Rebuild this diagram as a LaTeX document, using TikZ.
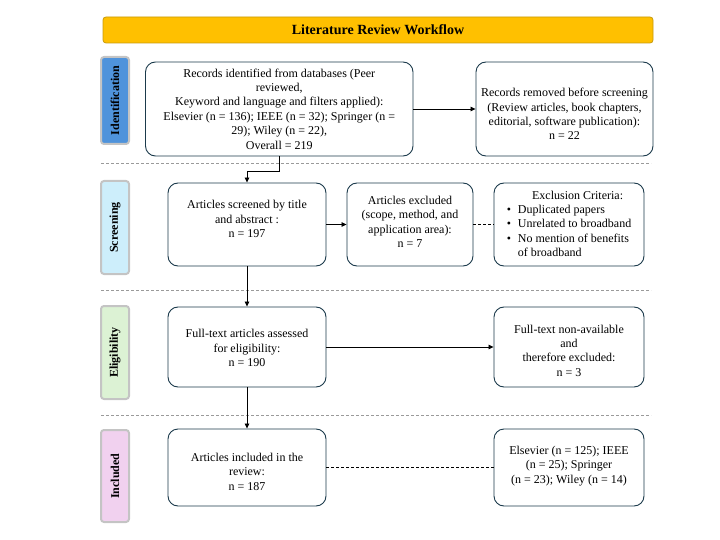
\documentclass[tikz,border=0pt]{standalone}
\usepackage{fontspec}
\setmainfont{Liberation Serif}
\usetikzlibrary{arrows.meta}
\definecolor{boxline}{HTML}{1B3A4B}
\definecolor{titlefill}{HTML}{FFC000}
\definecolor{titleline}{HTML}{C79A0B}
\definecolor{identfill}{HTML}{4F93DB}
\definecolor{screenfill}{HTML}{CDEEFB}
\definecolor{eligfill}{HTML}{DCF2D4}
\definecolor{inclfill}{HTML}{F1D1EF}
\definecolor{labline}{HTML}{C4C4C4}
\definecolor{sepline}{HTML}{9A9A9A}
\tikzset{
  flowbox/.style={draw=boxline, line width=0.9pt, rounded corners=10pt, fill=white, inner sep=0pt},
  boxtext/.style={align=center, inner sep=0pt, font=\fontsize{12}{14.4}\selectfont},
  phase/.style={draw=labline, line width=2pt, rounded corners=3pt, rotate=90, minimum height=28pt, inner sep=0pt, font=\fontsize{12}{14.4}\selectfont\bfseries},
  sepstyle/.style={draw=sepline, line width=0.8pt, dash pattern=on 3pt off 2pt},
  arr/.style={line width=0.8pt, -{Triangle[length=5pt,width=4.5pt]}},
  dashconn/.style={line width=0.8pt, dash pattern=on 3pt off 2pt}
}
\begin{document}
\begin{tikzpicture}[x=1pt,y=-1pt]
\useasboundingbox (0,0) rectangle (720,540);
% title
\node[draw=titleline, fill=titlefill, line width=0.8pt, rounded corners=3pt, minimum width=550pt, minimum height=26pt, inner sep=0pt, font=\fontsize{14}{16}\selectfont\bfseries] (title) at (378,30) {Literature Review Workflow};
% phase labels
\node[phase, fill=identfill, minimum width=87pt] (lident) at (115,100.5) {Identification};
\node[phase, fill=screenfill, minimum width=93pt] (lscreen) at (115,227.5) {Screening};
\node[phase, fill=eligfill, minimum width=93pt] (lelig) at (115,352.5) {Eligibility};
\node[phase, fill=inclfill, minimum width=92pt] (lincl) at (115,476) {Included};
% separators
\draw[sepstyle] (101,163) -- (651,163);
\draw[sepstyle] (101,290) -- (651,290);
\draw[sepstyle] (101,415) -- (651,415);
% boxes
\node[flowbox, minimum width=267.5pt, minimum height=94pt] (rec) at (279.25,109) {};
\node[flowbox, minimum width=177pt, minimum height=94pt] (rem) at (564.5,109) {};
\node[flowbox, minimum width=158pt, minimum height=83pt] (scr) at (247,224.5) {};
\node[flowbox, minimum width=126pt, minimum height=83pt] (exc) at (410,224.5) {};
\node[flowbox, minimum width=150pt, minimum height=83pt] (crit) at (569,224.5) {};
\node[flowbox, minimum width=158pt, minimum height=80pt] (elig) at (247,347) {};
\node[flowbox, minimum width=150pt, minimum height=80pt] (fta) at (569,347) {};
\node[flowbox, minimum width=158pt, minimum height=77pt] (inc) at (247,467.5) {};
\node[flowbox, minimum width=150pt, minimum height=77pt] (els) at (569,467.5) {};
% texts
\node[boxtext] (rect) at (279.25,109) {Records identified from databases (Peer\\reviewed,\\Keyword and language and filters applied):\\Elsevier (n = 136); IEEE (n = 32); Springer (n =\\29); Wiley (n = 22),\\Overall = 219};
\node[boxtext] (remt) at (564.5,114) {Records removed before screening\\(Review articles, book chapters,\\editorial, software publication):\\n = 22};
\node[boxtext] (scrt) at (247,219) {Articles screened by title\\and abstract :\\n = 197};
\node[boxtext] (exct) at (410,222) {Articles excluded\\(scope, method, and\\application area):\\n = 7};
\node[boxtext] (critt) at (569,225) {\begin{tabular}{@{}l@{\hspace{7pt}}l@{}}
 & \multicolumn{1}{c@{}}{Exclusion Criteria:}\\
\textbullet & Duplicated papers\\
\textbullet & Unrelated to broadband\\
\textbullet & No mention of benefits\\
 & of broadband
\end{tabular}};
\node[boxtext] (eligt) at (247,348) {Full-text articles assessed\\for eligibility:\\n = 190};
\node[boxtext] (ftat) at (569,350.5) {Full-text non-available\\and\\therefore excluded:\\n = 3};
\node[boxtext] (inct) at (247,471.5) {Articles included in the\\review:\\n = 187};
\node[boxtext] (elst) at (569,466) {Elsevier (n = 125); IEEE\\(n = 25); Springer\\(n = 23); Wiley (n = 14)};
% connectors
\coordinate (bend) at (279.25,171);
\draw[arr] (rec.east) -- (rem.west);
\draw[arr] (rec.south) -- (bend) -| (scr.north);
\draw[arr] (scr.east) -- (exc.west);
\draw[dashconn] (exc.east) -- (crit.west);
\draw[arr] (scr.south) -- (elig.north);
\draw[arr] (elig.east) -- (fta.west);
\draw[arr] (elig.south) -- (inc.north);
\draw[dashconn] (inc.east) -- (els.west);
\end{tikzpicture}
\end{document}
